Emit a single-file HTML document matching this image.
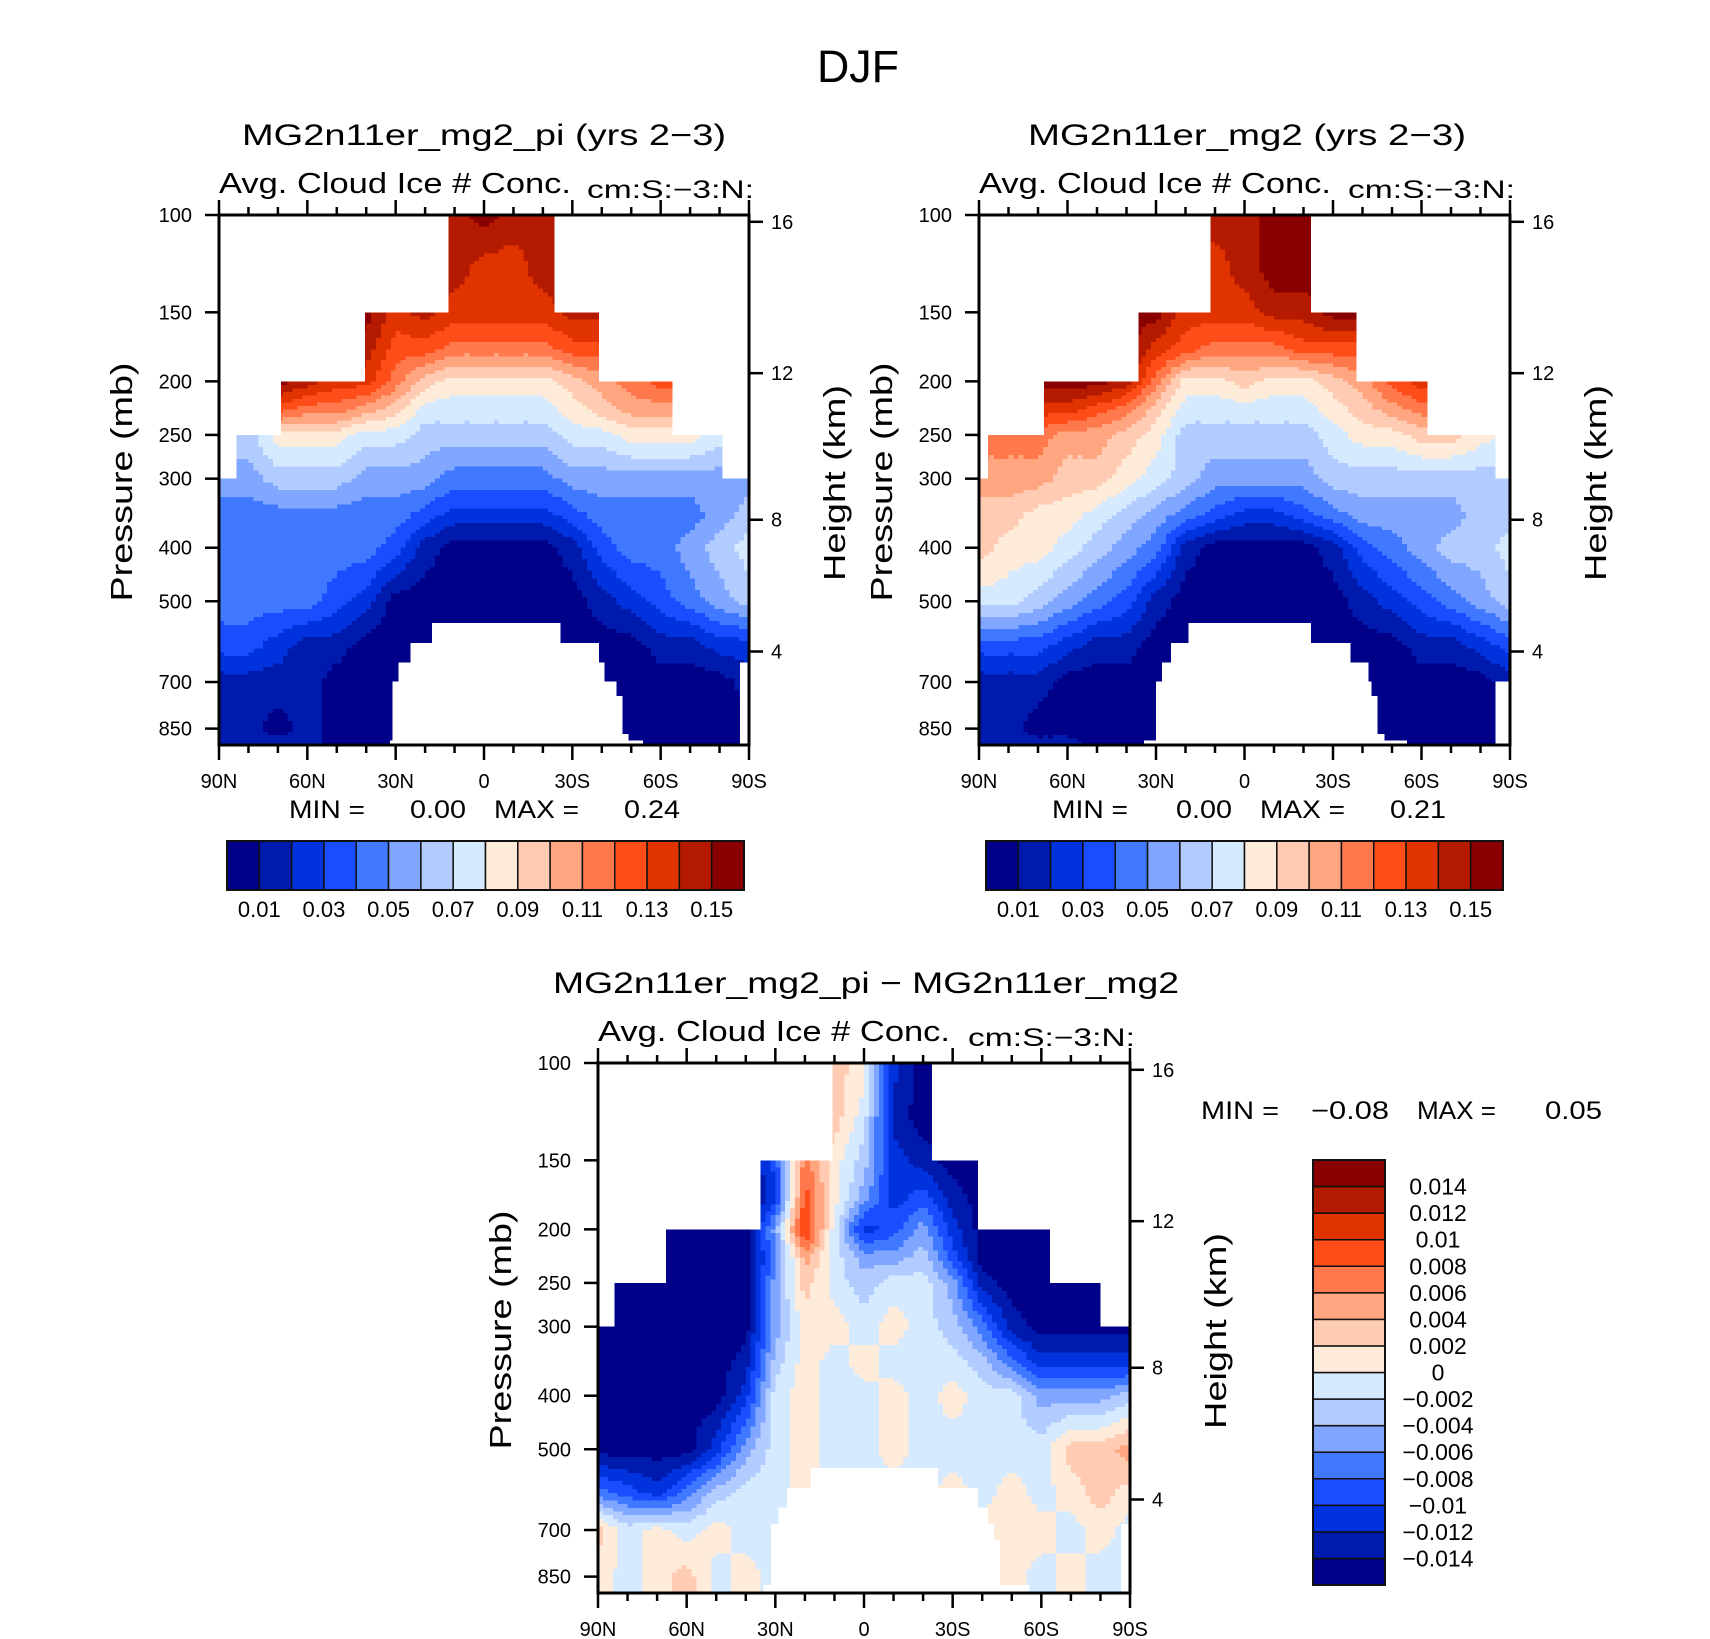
<!DOCTYPE html>
<html><head><meta charset="utf-8"><title>DJF Cloud Ice Number Concentration</title>
<style>html,body{margin:0;padding:0;background:#fff;}svg{display:block;font-family:"Liberation Sans",sans-serif;}</style>
</head><body>
<svg id="fig" xmlns="http://www.w3.org/2000/svg" width="1710" height="1639" viewBox="0 0 1710 1639">
<text x="858" y="82" font-size="45" text-anchor="middle" textLength="82" lengthAdjust="spacingAndGlyphs">DJF</text>
</svg>
<script>
// ---- shared axes data ----
const LATS = [90,80,70,60,50,40,30,20,10,0,-10,-20,-30,-40,-50,-60,-70,-80,-90];
const PRES = [100,125,150,175,200,225,250,300,350,400,500,600,700,850,910];
const presTicks = [100,150,200,250,300,400,500,700,850];
const heightTicks = [4,8,12,16];
const latTicks = [90,60,30,0,-30,-60,-90];
const latTickLabels = ['90N','60N','30N','0','30S','60S','90S'];
const absLevels = [0.01,0.02,0.03,0.04,0.05,0.06,0.07,0.08,0.09,0.10,0.11,0.12,0.13,0.14,0.15];
const absLevelLabels = ['0.01','0.03','0.05','0.07','0.09','0.11','0.13','0.15'];
const diffLevels = [-0.014,-0.012,-0.01,-0.008,-0.006,-0.004,-0.002,0,0.002,0.004,0.006,0.008,0.01,0.012,0.014];
const diffLevelLabels = ['-0.014','-0.012','-0.01','-0.008','-0.006','-0.004','-0.002','0','0.002','0.004','0.006','0.008','0.01','0.012','0.014'];
const COLORS = ['#000088','#001aad','#0033dd','#1a4dff','#4079ff','#80a6ff','#b3ccff','#d6eaff','#ffebd9','#ffccb3','#ffa680','#ff794d','#ff4d1a','#e03300','#b31a00','#880000'];

// ---- panel 1: MG2n11er_mg2_pi (rows follow PRES, columns follow LATS) ----
const field1 = [
[.145,.145,.145,.145,.145,.145,.145,.145,.145,.155,.145,.145,.145,.145,.145,.145,.145,.145,.145],
[.145,.145,.145,.145,.145,.145,.145,.145,.145,.135,.135,.145,.145,.145,.145,.145,.145,.145,.145],
[.145,.145,.145,.145,.145,.155,.135,.145,.135,.135,.135,.135,.145,.145,.145,.145,.145,.145,.145],
[.145,.145,.145,.145,.145,.145,.125,.125,.115,.115,.115,.115,.125,.125,.125,.125,.125,.125,.125],
[.155,.155,.155,.145,.135,.135,.115,.095,.085,.085,.085,.085,.095,.105,.115,.125,.125,.125,.125],
[.125,.125,.125,.115,.115,.105,.095,.075,.075,.075,.075,.075,.085,.095,.105,.105,.105,.105,.105],
[.065,.065,.085,.085,.085,.075,.075,.065,.065,.065,.065,.065,.075,.075,.085,.085,.085,.075,.075],
[.055,.055,.065,.065,.065,.055,.055,.055,.045,.045,.045,.045,.055,.055,.055,.055,.055,.055,.055],
[.045,.045,.045,.045,.045,.045,.045,.035,.025,.025,.025,.025,.035,.045,.045,.045,.045,.055,.065],
[.045,.045,.045,.045,.045,.045,.035,.015,.005,.005,.005,.005,.015,.035,.045,.045,.055,.065,.075],
[.045,.045,.045,.045,.035,.025,.005,.005,.005,.005,.005,.005,.005,.015,.025,.035,.045,.055,.065],
[.035,.035,.025,.015,.015,.005,.005,.005,.005,.005,.005,.005,.005,.005,.005,.015,.015,.025,.025],
[.015,.015,.015,.015,.005,.005,.005,.005,.005,.005,.005,.005,.005,.005,.005,.005,.005,.005,.015],
[.015,.015,.005,.015,.005,.005,.005,.005,.005,.005,.005,.005,.005,.005,.005,.005,.005,.005,.005],
[.015,.015,.015,.015,.005,.005,.005,.005,.005,.005,.005,.005,.005,.005,.005,.005,.005,.005,.005]
];
const topMask1 = [[100,150,12,-24],[150,200,40.4,-39],[200,250,69,-64],[250,300,84,-81]];
const botMask1 = [[547,17.6,-26],[595,25,-39],[645,29,-41],[698,31,-45],[742,31,-47],[870,31,-49],[893,32,-54],[645,-87,-90]];

// ---- panel 2: MG2n11er_mg2 ----
const field2 = [
[.145,.145,.145,.145,.145,.145,.145,.145,.145,.145,.155,.155,.155,.155,.155,.155,.155,.155,.155],
[.135,.135,.135,.135,.135,.135,.135,.135,.135,.145,.155,.155,.155,.155,.155,.155,.155,.155,.155],
[.155,.155,.155,.155,.155,.155,.155,.135,.135,.135,.145,.145,.155,.155,.155,.155,.155,.155,.155],
[.155,.155,.155,.155,.155,.155,.135,.125,.115,.115,.115,.125,.125,.125,.125,.125,.125,.125,.125],
[.155,.155,.155,.155,.155,.145,.115,.085,.085,.095,.085,.085,.095,.105,.125,.135,.135,.135,.135],
[.135,.135,.135,.135,.125,.115,.095,.075,.075,.075,.075,.075,.085,.095,.105,.115,.115,.115,.115],
[.115,.115,.115,.105,.105,.095,.085,.065,.065,.065,.065,.065,.075,.085,.085,.095,.095,.085,.075],
[.105,.105,.105,.095,.095,.085,.075,.065,.055,.055,.055,.055,.065,.065,.065,.065,.065,.065,.065],
[.095,.095,.085,.085,.075,.065,.055,.045,.035,.025,.025,.035,.045,.055,.055,.055,.055,.065,.065],
[.095,.085,.085,.075,.065,.055,.045,.015,.005,.005,.005,.005,.015,.035,.045,.055,.065,.065,.075],
[.075,.075,.065,.055,.045,.035,.015,.005,.005,.005,.005,.005,.005,.015,.025,.035,.045,.055,.065],
[.035,.035,.035,.025,.015,.015,.005,.005,.005,.005,.005,.005,.005,.005,.005,.015,.015,.025,.035],
[.015,.015,.015,.005,.005,.005,.005,.005,.005,.005,.005,.005,.005,.005,.005,.005,.005,.005,.015],
[.015,.015,.005,.005,.005,.005,.005,.005,.005,.005,.005,.005,.005,.005,.005,.005,.005,.005,.005],
[.015,.015,.015,.015,.005,.005,.005,.005,.005,.005,.005,.005,.005,.005,.005,.005,.005,.005,.005]
];
const topMask2 = [[100,150,11.5,-22.6],[150,200,36,-38],[200,250,68,-62],[250,300,87,-85]];
const botMask2 = [[547,19,-22.5],[595,25,-36],[645,28,-42],[698,30,-43],[742,30,-45],[870,30,-47.5],[893,34,-55],[698,-85,-90]];

// ---- panel 3: difference ----
const field3 = [
[-.015,-.015,-.015,-.015,-.015,-.015,-.015,.003,.003,.001,-.011,-.015,-.015,-.015,-.015,-.015,-.015,-.015,-.015],
[-.015,-.015,-.015,-.015,-.015,-.015,-.015,.003,.003,-.001,-.013,-.015,-.015,-.015,-.015,-.015,-.015,-.015,-.015],
[-.015,-.015,-.015,-.015,-.015,-.015,-.009,.007,.001,-.003,-.011,-.013,-.015,-.015,-.015,-.015,-.015,-.015,-.015],
[-.015,-.015,-.015,-.015,-.015,-.015,-.011,.009,.001,-.005,-.011,-.009,-.013,-.015,-.015,-.015,-.015,-.015,-.015],
[-.015,-.015,-.015,-.015,-.015,-.015,-.005,.011,-.001,-.011,-.009,-.005,-.011,-.015,-.015,-.015,-.015,-.015,-.015],
[-.015,-.015,-.015,-.015,-.015,-.015,-.007,.005,-.001,-.005,-.005,-.003,-.009,-.015,-.015,-.015,-.015,-.015,-.015],
[-.015,-.015,-.015,-.015,-.015,-.015,-.005,.003,-.001,-.003,-.001,-.001,-.005,-.013,-.015,-.015,-.015,-.015,-.015],
[-.015,-.015,-.015,-.015,-.015,-.015,-.005,.001,.001,-.001,.001,-.001,-.003,-.007,-.013,-.015,-.015,-.015,-.015],
[-.015,-.015,-.015,-.015,-.015,-.013,-.003,.001,-.001,.001,-.001,-.001,-.001,-.003,-.007,-.011,-.011,-.011,-.011],
[-.015,-.015,-.015,-.015,-.015,-.011,-.001,.001,-.001,-.001,.001,-.001,.001,-.001,-.001,-.005,-.005,-.005,-.003],
[-.015,-.015,-.015,-.015,-.011,-.005,-.001,.001,-.001,-.001,.001,-.001,-.001,-.001,-.001,-.001,.003,.003,.005],
[-.007,-.009,-.011,-.007,-.003,-.001,-.001,.001,-.001,-.001,-.001,-.001,.001,-.001,.001,-.001,.001,.003,.001],
[.003,-.001,.001,-.001,.001,-.001,-.001,-.001,-.001,-.001,-.001,-.001,-.001,.001,.001,.001,-.001,.001,-.001],
[.001,-.001,.001,.003,-.001,.001,-.001,-.001,-.001,-.001,-.001,-.001,-.001,-.001,.001,-.001,.001,-.001,-.001],
[.001,-.001,.001,.003,-.001,.001,-.001,-.001,-.001,-.001,-.001,-.001,-.001,-.001,.001,-.001,.001,-.001,-.001]
];
const topMask3 = [[100,150,10.6,-23],[150,200,35,-38.5],[200,250,67,-63],[250,300,84.5,-80]];
const botMask3 = [[541,18,-25],[587,26,-38.6],[637,29,-42],[683,31.4,-44],[730,31.4,-46],[880,34,-56],[683,-87,-90]];

const NS = 'http://www.w3.org/2000/svg';
const svg = document.getElementById('fig');
function mk(tag, attrs, parent){
  const e = document.createElementNS(NS, tag);
  for (const k in attrs) e.setAttribute(k, attrs[k]);
  (parent||svg).appendChild(e);
  return e;
}
function classify(v, levels){ let k=0; while(k<levels.length && v>=levels[k]) k++; return k; }
function hToP(z){ const m=z*1000; if(m<=11000) return 1013.25*Math.pow(1-2.25577e-5*m,5.25588); return 226.32*Math.exp(-(m-11000)/6341.6); }

function drawPanel(P){
  const W=P.w, H=P.h, X0=P.x, Y0=P.y;
  const PX = 240; // px per ln unit
  const xs = lat => X0 + (90-lat)/180*W;
  const ys = p => Y0 + Math.log(p/100)*PX;
  const g = mk('g',{});
  
  
  const cg = mk('g',{'shape-rendering':'crispEdges'}, g);
  
  
  const F=P.field;
  for(let i=0;i<PRES.length-1;i++){
    const ya=ys(PRES[i]), yb=ys(PRES[i+1]);
    const ns=Math.max(1,Math.ceil((yb-ya)/4));
    for(let s=0;s<ns;s++){
      const t=(s+0.5)/ns;
      const y0=ya+(yb-ya)*s/ns, y1=ya+(yb-ya)*(s+1)/ns;
      let runStart=null, runCls=null;
      const segs=[];
      for(let j=0;j<LATS.length-1;j++){
        const xa=xs(LATS[j]), xb=xs(LATS[j+1]);
        const nx=6;
        for(let q=0;q<nx;q++){
          const u=(q+0.5)/nx;
          const v=(1-t)*((1-u)*F[i][j]+u*F[i][j+1]) + t*((1-u)*F[i+1][j]+u*F[i+1][j+1]);
          const c=classify(v,P.levels);
          const sx=xa+(xb-xa)*q/nx, ex=xa+(xb-xa)*(q+1)/nx;
          if(runCls===c){ runStart[1]=ex; } else { runStart=[sx,ex,c]; runCls=c; segs.push(runStart); }
        }
      }
      segs.forEach(sg=>{
        const r=mk('rect',{x:sg[0].toFixed(2),y:y0.toFixed(2),width:(sg[1]-sg[0]+0.6).toFixed(2),height:(y1-y0+0.6).toFixed(2),fill:COLORS[sg[2]]},cg);
        
        
      });
    }
  }
  // masks (missing data)
  const mg = mk('g',{fill:'#fff','shape-rendering':'crispEdges'}, g);
  
  
  P.topMask.forEach(b=>{
    const y0=ys(b[0]), y1=ys(b[1]);
    mk('rect',{x:X0,y:y0,width:xs(b[2])-X0,height:y1-y0},mg);
    mk('rect',{x:xs(b[3]),y:y0,width:X0+W-xs(b[3]),height:y1-y0},mg);
  });
  P.botMask.forEach(b=>{
    const y0=ys(b[0]);
    mk('rect',{x:xs(b[1]),y:y0,width:xs(b[2])-xs(b[1]),height:Y0+H-y0},mg);
  });
  // frame
  const fr=mk('rect',{x:X0,y:Y0,width:W,height:H,fill:'none',stroke:'#000','stroke-width':3},g);
  
  
  // x ticks
  const tg=mk('g',{stroke:'#000','stroke-width':2.5},g);
  
  
  for(let lat=90;lat>=-90;lat-=10){
    const major = lat%30===0; const L = major?15:8; const x=xs(lat);
    mk('line',{x1:x,y1:Y0+H,x2:x,y2:Y0+H+L},tg);
    mk('line',{x1:x,y1:Y0,x2:x,y2:Y0-L},tg);
  }
  presTicks.forEach(p=>{ mk('line',{x1:X0-14,y1:ys(p),x2:X0,y2:ys(p)},tg); });
  heightTicks.forEach(z=>{ const y=ys(hToP(z)); mk('line',{x1:X0+W,y1:y,x2:X0+W+14,y2:y},tg); });
  // labels
  latTicks.forEach((lat,k)=>{
    const t=mk('text',{x:xs(lat),y:Y0+H+43,'font-size':20,'text-anchor':'middle'},g);
    
    
    t.textContent=latTickLabels[k];
  });
  presTicks.forEach(p=>{
    const t=mk('text',{x:X0-27,y:ys(p)+7,'font-size':20,'text-anchor':'end'},g);
    
    
    t.textContent=p;
  });
  heightTicks.forEach(z=>{
    const t=mk('text',{x:X0+W+22,y:ys(hToP(z))+7,'font-size':20},g);
    
    
    t.textContent=z;
  });
  const yt=mk('text',{x:0,y:0,'font-size':31,'text-anchor':'middle',textLength:239,lengthAdjust:'spacingAndGlyphs',transform:`translate(${X0-87},${Y0+267}) rotate(-90)`},g);
  
  
  yt.textContent='Pressure (mb)';
  const ht=mk('text',{x:0,y:0,'font-size':31,'text-anchor':'middle',textLength:196,lengthAdjust:'spacingAndGlyphs',transform:`translate(${X0+W+96},${Y0+268}) rotate(-90)`},g);
  
  
  ht.textContent='Height (km)';
  // titles
  const tt=mk('text',{x:P.title[1],y:Y0-70,'font-size':30,textLength:P.title[2],lengthAdjust:'spacingAndGlyphs'},g);
  
  
  tt.textContent=P.title[0];
  const st=mk('text',{x:X0,y:Y0-22,'font-size':29,textLength:352,lengthAdjust:'spacingAndGlyphs'},g);
  
  
  st.textContent='Avg. Cloud Ice # Conc.';
  const ut=mk('text',{x:X0+W+5,y:Y0-17,'font-size':25,'text-anchor':'end',textLength:167,lengthAdjust:'spacingAndGlyphs'},g);
  
  
  ut.textContent='cm:S:\u22123:N:';
}

function minmax(items){
  items.forEach(it=>{
    const t=mk('text',{x:it[0],y:it[1],'font-size':25,'text-anchor':it[3]||'start',textLength:it[4],lengthAdjust:'spacingAndGlyphs'});
    
    
    t.textContent=it[2];
  });
}

function hColorbar(x0,x1,y0,y1,name){
  const g=mk('g',{});
  
  
  const n=COLORS.length, w=(x1-x0)/n;
  COLORS.forEach((c,k)=>{
    const r=mk('rect',{x:x0+k*w,y:y0,width:w,height:y1-y0,fill:c,stroke:'#111','stroke-width':1.5},g);
    
    
  });
  mk('rect',{x:x0,y:y0,width:x1-x0,height:y1-y0,fill:'none',stroke:'#111','stroke-width':2},g);
  absLevelLabels.forEach((lab,k)=>{
    const t=mk('text',{x:x0+(2*k+1)*w,y:y1+27,'font-size':22,'text-anchor':'middle'},g);
    
    
    t.textContent=lab;
  });
}

drawPanel({name:'panel-pi',x:219,y:215,w:530,h:530,field:field1,levels:absLevels,topMask:topMask1,botMask:botMask1,title:['MG2n11er_mg2_pi (yrs 2\u22123)',242,484]});
drawPanel({name:'panel-mg2',x:979,y:215,w:531,h:530,field:field2,levels:absLevels,topMask:topMask2,botMask:botMask2,title:['MG2n11er_mg2 (yrs 2\u22123)',1028,438]});
drawPanel({name:'panel-diff',x:598,y:1063,w:532,h:530,field:field3,levels:diffLevels,topMask:topMask3,botMask:botMask3,title:['MG2n11er_mg2_pi \u2212 MG2n11er_mg2',553,626]});

minmax([[289,818,'MIN =',null,76],[466,818,'0.00','end',56],[494,818,'MAX =',null,85],[680,818,'0.24','end',56]]);
minmax([[1052,818,'MIN =',null,76],[1232,818,'0.00','end',56],[1260,818,'MAX =',null,85],[1446,818,'0.21','end',56]]);
minmax([[1201,1119,'MIN =',null,78],[1389,1119,'\u22120.08','end',78],[1417,1119,'MAX =',null,79],[1602,1119,'0.05','end',57]]);

hColorbar(227,744,841,890,'colorbar-pi');
hColorbar(986,1503,841,890,'colorbar-mg2');

// vertical colorbar for difference
(function(){
  const g=mk('g',{});
  
  
  const x0=1313,x1=1385,y0=1160,y1=1585,n=COLORS.length,h=(y1-y0)/n;
  COLORS.forEach((c,k)=>{
    const r=mk('rect',{x:x0,y:y0+(n-1-k)*h,width:x1-x0,height:h,fill:c,stroke:'#111','stroke-width':1.5},g);
    
    
  });
  mk('rect',{x:x0,y:y0,width:x1-x0,height:y1-y0,fill:'none',stroke:'#111','stroke-width':2},g);
  diffLevelLabels.forEach((lab,k)=>{
    const b=n-1-k; // boundary index from top
    const t=mk('text',{x:1438,y:y0+b*h+8,'font-size':23,'text-anchor':'middle'},g);
    
    
    t.textContent=lab.replace('-','\u2212');
  });
})();
</script>
</body></html>
